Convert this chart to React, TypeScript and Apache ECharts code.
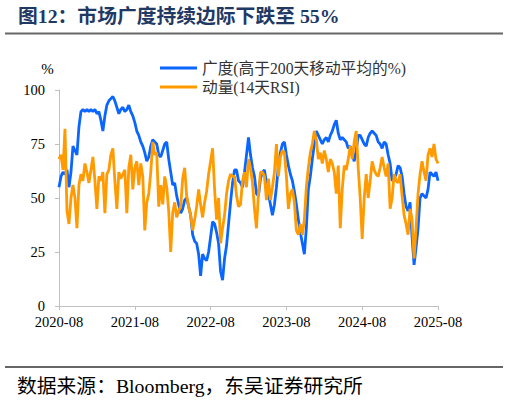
import React, { useEffect, useRef } from "react";
import * as echarts from "echarts";

const xTickLabels = ["2020-08", "2021-08", "2022-08", "2023-08", "2024-08", "2025-08"];
const yTicks = [0, 25, 50, 75, 100];

const seriesNames = ["广度(高于200天移动平均的%)", "动量(14天RSI)"];

// 广度: share of stocks above 200-day moving average (%)
const breadth = [
  55, 60, 62, 61, 63, 55, 62, 74, 72, 70,
  83, 90, 91, 90, 91, 90, 91, 90, 91, 89,
  90, 86, 81, 88, 93, 95, 96, 97, 95, 92,
  89, 91, 92, 90, 91, 93, 90, 88, 85, 81,
  79, 76, 74, 71, 67, 69, 74, 77, 76, 75,
  70, 69, 72, 75, 76, 68, 62, 56, 57, 51,
  47, 43, 45, 49, 50, 46, 42, 33, 30, 29,
  24, 14, 24, 22, 21, 25, 32, 39, 38, 34,
  29, 16, 12, 22, 28, 38, 48, 57, 63, 63,
  58, 57, 55, 62, 70, 78, 70, 64, 60, 52,
  51, 59, 62, 63, 57, 52, 47, 42, 47, 55,
  65, 71, 75, 76, 70, 65, 61, 58, 53, 47,
  40, 34, 29, 24, 36, 54, 60, 68, 75, 81,
  79, 77, 75, 77, 78, 76, 79, 81, 84, 86,
  80, 77, 78, 77, 76, 73, 74, 70, 67, 72,
  79, 79, 77, 75, 74, 78, 80, 81, 80, 79,
  76, 75, 73, 76, 75, 70, 66, 58, 59, 61,
  65, 64, 60, 52, 46, 44, 48, 32, 19, 27,
  36, 50, 52, 51, 50, 54, 62, 61, 60, 62,
  58,
];

// 动量: 14-day RSI
const momentum = [
  68, 70, 63, 82, 44, 38, 50, 56, 50, 36,
  56, 61, 58, 66, 62, 57, 63, 69, 58, 45,
  60, 58, 62, 43, 61, 63, 70, 73, 58, 45,
  62, 59, 61, 63, 43, 64, 70, 54, 64, 67,
  56, 66, 60, 35, 48, 52, 62, 76, 70, 71,
  46, 56, 47, 60, 55, 44, 25, 43, 48, 41,
  44, 46, 59, 64, 51, 46, 42, 35, 40, 46,
  54, 47, 41, 48, 53, 61, 67, 73, 54, 40,
  50, 29, 36, 42, 52, 58, 61, 60, 60, 51,
  46, 47, 58, 62, 55, 68, 64, 57, 45, 36,
  52, 62, 62, 60, 49, 59, 49, 55, 62, 75,
  60, 69, 72, 71, 60, 45, 52, 54, 48, 35,
  33, 38, 33, 40, 55, 64, 71, 75, 81, 77,
  68, 71, 66, 72, 68, 62, 68, 66, 62, 52,
  65, 36, 54, 65, 63, 68, 74, 68, 76, 81,
  64, 50, 31, 50, 61, 50, 58, 67, 63, 61,
  60, 64, 69, 64, 60, 66, 45, 50, 61, 58,
  57, 61, 51, 42, 38, 33, 45, 40, 22, 36,
  52, 61, 67, 62, 58, 70, 73, 69, 75, 68,
  66,
];

const SERIF = "'Liberation Serif', 'Times New Roman', 'Noto Sans CJK SC', serif";
const MONTHS_SPAN = (xTickLabels.length - 1) * 12;

export default function App() {
  const ref = useRef<HTMLDivElement>(null);

  useEffect(() => {
    document.body.style.margin = "0";
    const chart = echarts.init(ref.current!, null, { renderer: "svg" });
    const toPairs = (arr: number[]) =>
      arr.map((v, i) => [(i * MONTHS_SPAN) / (arr.length - 1), v]);

    chart.setOption({
      animation: false,
      backgroundColor: "#ffffff",
      grid: { left: 59, right: 72, top: 90, bottom: 96, containLabel: false, outerBoundsMode: "none" },
      legend: {
        orient: "vertical",
        left: 155,
        top: 55,
        itemWidth: 37,
        itemHeight: 3,
        itemGap: 3,
        icon: "rect",
        data: seriesNames,
        textStyle: {
          fontFamily: SERIF,
          fontSize: 15.7,
          lineHeight: 16,
          color: "#333333",
        },
      },
      xAxis: {
        type: "value",
        min: 0,
        max: MONTHS_SPAN,
        interval: 12,
        splitLine: { show: false },
        axisLine: { show: true, lineStyle: { color: "#c0c0c0", width: 1 } },
        axisTick: { show: true, length: 4, lineStyle: { color: "#c0c0c0" } },
        axisLabel: {
          margin: 9,
          fontFamily: SERIF,
          fontSize: 14.5,
          color: "#000000",
          formatter: (v: number) => xTickLabels[Math.round(v / 12)] ?? "",
        },
      },
      yAxis: {
        type: "value",
        min: yTicks[0],
        max: yTicks[yTicks.length - 1],
        interval: 25,
        splitLine: { show: false },
        axisLine: { show: true, lineStyle: { color: "#c0c0c0", width: 1 } },
        axisTick: { show: true, length: 4, lineStyle: { color: "#c0c0c0" } },
        axisLabel: {
          margin: 14,
          fontFamily: SERIF,
          fontSize: 14.5,
          color: "#000000",
        },
      },
      series: [
        {
          name: seriesNames[0],
          type: "line",
          data: toPairs(breadth),
          showSymbol: false,
          symbol: "none",
          lineStyle: { color: "#0a66ff", width: 2.8 },
          itemStyle: { color: "#0a66ff" },
        },
        {
          name: seriesNames[1],
          type: "line",
          data: toPairs(momentum),
          showSymbol: false,
          symbol: "none",
          lineStyle: { color: "#ff9a00", width: 2.8 },
          itemStyle: { color: "#ff9a00" },
        },
      ],
      graphic: [
        {
          type: "text",
          style: {
            text: "图12：市场广度持续边际下跌至 55%",
            x: 18,
            y: 15.5,
            fill: "#1f3864",
            font: `bold 19.8px ${SERIF}`,
            textAlign: "left",
            textVerticalAlign: "middle",
          },
        },
        {
          type: "line",
          shape: { x1: 5, y1: 33.5, x2: 503, y2: 33.5 },
          style: { stroke: "#666666", lineWidth: 2 },
        },
        {
          type: "text",
          style: {
            text: "%",
            x: 47.5,
            y: 69,
            fill: "#000000",
            font: `15px ${SERIF}`,
            textAlign: "center",
            textVerticalAlign: "middle",
          },
        },
        {
          type: "line",
          shape: { x1: 5, y1: 367, x2: 503, y2: 367 },
          style: { stroke: "#666666", lineWidth: 2 },
        },
        {
          type: "text",
          style: {
            text: "数据来源：Bloomberg，东吴证券研究所",
            x: 17,
            y: 386,
            fill: "#000000",
            font: `19.8px ${SERIF}`,
            textAlign: "left",
            textVerticalAlign: "middle",
          },
        },
      ],
    });
    return () => chart.dispose();
  }, []);

  return (
    <div
      ref={ref}
      style={{ position: "fixed", left: 0, top: 0, width: 510, height: 402, background: "#fff" }}
    />
  );
}
